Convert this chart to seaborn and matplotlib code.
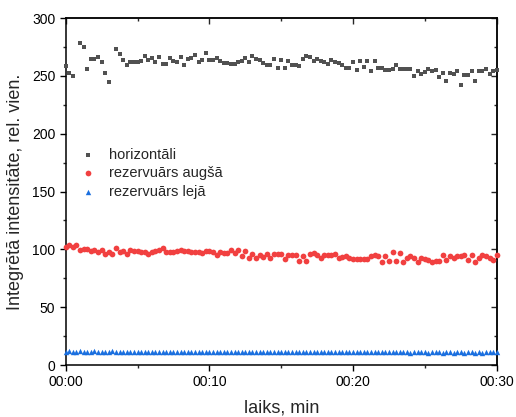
import numpy as np
import pandas as pd
import matplotlib
matplotlib.use("Agg")
import matplotlib.pyplot as plt
from matplotlib.ticker import MultipleLocator
import seaborn as sns

nan = np.nan
# time in minutes, 15 s step
time_min = [i * 0.25 for i in range(121)]

horizontali = [
    258.4, 252.7, 249.8, nan, 278.6, 275.1, 255.5, 264.2, 264.2, 266.2,
    262.2, 252.1, 244.9, nan, 272.8, 269.0, 263.3, 259.5, 262.2, 262.2,
    262.2, 263.1, 266.9, 263.6, 265.3, 261.9, 265.9, 260.2, 260.2, 265.6,
    262.7, 261.9, 266.5, 259.0, 264.2, 265.1, 267.7, 262.2, 263.6, 269.4,
    263.3, 263.6, 265.6, 262.7, 261.3, 261.3, 260.4, 260.4, 261.6, 263.0,
    265.1, 261.9, 267.1, 264.2, 263.6, 261.3, 259.6, 259.6, 264.2, 257.0,
    263.6, 257.0, 262.5, 259.6, 259.6, 258.4, 264.8, 267.1, 265.9, 262.5,
    264.8, 263.0, 261.9, 260.2, 263.6, 261.9, 261.3, 259.6, 256.4, 256.4,
    261.9, 255.3, 262.5, 257.6, 262.5, 254.1, 262.5, 257.0, 257.0, 255.3,
    255.3, 255.5, 259.6, 256.1, 256.1, 256.1, 255.5, 249.8, 253.8, 251.8,
    252.9, 256.1, 253.8, 255.0, 248.6, 252.7, 245.5, 252.7, 251.8, 253.8,
    241.7, 250.9, 250.9, 253.8, 245.5, 253.8, 253.8, 256.1, 251.8, 253.8, 255.0,
]

augsa = [
    101.7, 104.0, 102.0, 103.4, 99.7, 100.3, 100.3, 98.2, 99.7, 97.4,
    99.7, 96.2, 97.4, 96.2, 101.1, 97.4, 98.8, 96.2, 99.4, 98.8,
    98.2, 97.4, 97.4, 95.6, 97.4, 98.2, 99.4, 101.4, 97.7, 97.7,
    97.7, 98.8, 99.7, 98.5, 98.8, 97.4, 97.4, 97.4, 96.5, 98.8,
    98.2, 97.4, 95.1, 97.7, 96.5, 97.1, 99.4, 96.5, 99.4, 93.9,
    98.8, 92.2, 95.9, 92.2, 95.4, 93.0, 95.9, 92.5, 96.2, 96.2,
    96.2, 91.9, 95.4, 95.4, 95.4, 89.9, 93.9, 89.9, 96.2, 97.1,
    95.4, 92.8, 95.4, 95.4, 95.4, 96.2, 92.8, 93.6, 94.5, 92.8,
    91.9, 91.9, 91.9, 91.9, 91.9, 94.5, 95.4, 93.9, 89.0, 93.9,
    89.9, 98.0, 89.9, 97.1, 89.0, 92.8, 94.5, 92.8, 89.0, 92.8,
    91.9, 90.8, 89.0, 89.9, 89.9, 95.4, 90.8, 93.9, 92.8, 93.9,
    93.9, 95.4, 90.8, 95.4, 89.0, 92.8, 95.4, 93.9, 92.8, 90.8, 95.4,
]

leja = [
    11.6, 11.7, 11.5, 11.6, 11.7, 11.6, 11.5, 11.6, 11.7, 11.5,
    11.6, 11.5, 11.6, 11.7, 11.5, 11.6, 11.5, 11.6, 11.4, 11.5,
    11.6, 11.5, 11.4, 11.5, 11.6, 11.4, 11.5, 11.4, 11.5, 11.6,
    11.4, 11.5, 11.4, 11.3, 11.5, 11.4, 11.3, 11.4, 11.5, 11.3,
    11.4, 11.3, 11.4, 11.2, 11.3, 11.4, 11.3, 11.2, 11.3, 11.4,
    11.2, 11.3, 11.2, 11.3, 11.2, 11.1, 11.3, 11.2, 11.1, 11.2,
    11.3, 11.1, 11.2, 11.1, 11.2, 11.0, 11.1, 11.2, 11.1, 11.0,
    11.1, 11.2, 11.0, 11.1, 11.0, 11.1, 11.2, 11.0, 11.1, 11.0,
    11.1, 11.0, 10.9, 11.1, 11.0, 10.9, 11.0, 11.1, 10.9, 11.0,
    10.9, 11.0, 11.1, 10.9, 11.0, 10.9, 10.8, 11.0, 10.9, 11.0,
    10.9, 10.8, 10.9, 11.0, 10.9, 10.8, 10.9, 11.0, 10.8, 10.9,
    10.9, 10.8, 10.9, 11.0, 10.8, 10.9, 10.8, 10.9, 11.0, 10.9, 10.9,
]

series_names = ["horizontāli", "rezervuārs augšā", "rezervuārs lejā"]
series_colors = ["#515151", "#F14040", "#1A6FDF"]
series_markers = ["s", "o", "^"]
series_sizes = [12, 17, 15]

xticks = [0, 10, 20, 30]
xtick_labels = ["00:00", "00:10", "00:20", "00:30"]
yticks = [0, 50, 100, 150, 200, 250, 300]

sns.set_style("ticks")
plt.rcParams["font.family"] = ["Liberation Sans", "DejaVu Sans"]

fig = plt.figure(figsize=(5.16, 4.17), dpi=100)
ax = fig.add_axes([0.1273, 0.1247, 0.8353, 0.8321])

for name, vals, col, mk, sz in zip(series_names, [horizontali, augsa, leja],
                                   series_colors, series_markers, series_sizes):
    df = pd.DataFrame({"t": time_min, "v": vals})
    sns.scatterplot(data=df, x="t", y="v", ax=ax, color=col, marker=mk, s=sz,
                    linewidth=0, label=name, clip_on=False, zorder=3)

ax.set_xlim(0, 30)
ax.set_ylim(0, 300)
ax.set_xticks(xticks)
ax.set_xticklabels(xtick_labels)
ax.set_yticks(yticks)
ax.xaxis.set_minor_locator(MultipleLocator(5))
ax.yaxis.set_minor_locator(MultipleLocator(25))
ax.tick_params(which="major", direction="out", length=4, width=1, labelsize=10, colors="black")
ax.tick_params(which="minor", direction="out", length=2.5, width=1)
for s in ax.spines.values():
    s.set_visible(True)
    s.set_linewidth(1.1)
    s.set_color("black")

# mirrored inward ticks on top / right
top = ax.secondary_xaxis("top")
top.set_xticks(xticks)
top.xaxis.set_minor_locator(MultipleLocator(5))
top.tick_params(which="major", direction="in", length=4, width=1, labeltop=False)
top.tick_params(which="minor", direction="in", length=2.5, width=1)
top.spines["top"].set_linewidth(1.1)
right = ax.secondary_yaxis("right")
right.set_yticks(yticks)
right.yaxis.set_minor_locator(MultipleLocator(25))
right.tick_params(which="major", direction="in", length=4, width=1, labelright=False)
right.tick_params(which="minor", direction="in", length=2.5, width=1)
right.spines["right"].set_linewidth(1.1)

ax.set_xlabel("laiks, min", fontsize=13, labelpad=7)
ax.set_ylabel("Integrētā intensitāte, rel. vien.", fontsize=13, labelpad=6)

ax.legend(loc="upper left", bbox_to_anchor=(-0.005, 0.655), frameon=False,
          fontsize=10.5, handletextpad=0.45, labelspacing=0.3,
          borderaxespad=0.3, markerscale=1.0)

fig.savefig("out.png", dpi=100)
